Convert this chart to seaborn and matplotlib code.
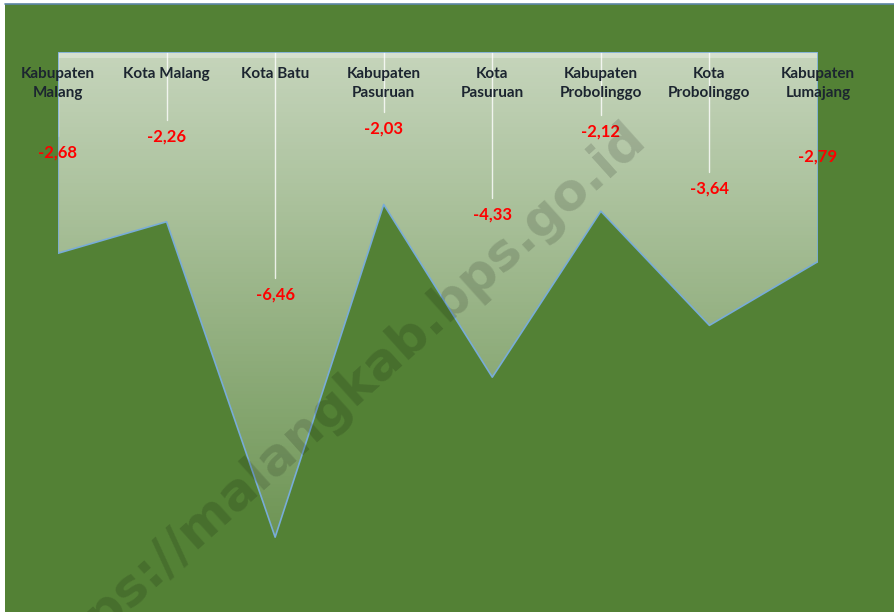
import numpy as np
import pandas as pd
import matplotlib
matplotlib.use("Agg")
import matplotlib.pyplot as plt
from matplotlib.patches import Rectangle, Polygon
import seaborn as sns

# Regional values (negative growth) per kabupaten / kota
regions = [
    "Kabupaten\nMalang", "Kota Malang", "Kota Batu", "Kabupaten\nPasuruan",
    "Kota\nPasuruan", "Kabupaten\nProbolinggo", "Kota\nProbolinggo", "Kabupaten\nLumajang",
]
values = [-2.68, -2.26, -6.46, -2.03, -4.33, -2.12, -3.64, -2.79]
value_labels = ["-2,68", "-2,26", "-6,46", "-2,03", "-4,33", "-2,12", "-3,64", "-2,79"]

df = pd.DataFrame({"pos": np.arange(len(regions)), "value": values})

sns.set_theme(style="white")
plt.rcParams["font.family"] = ["Lato", "DejaVu Sans"]

BG = "#538135"
W, H = 894, 612
fig = plt.figure(figsize=(W / 100, H / 100), dpi=100, facecolor="white")

# green chart panel with a thin frame line on top
fig.patches.append(Rectangle((5 / W, 0), 1 - 5 / W, 1 - 4 / H, transform=fig.transFigure,
                             facecolor=BG, edgecolor="none", zorder=-2))
fig.lines.append(plt.Line2D([5 / W, 1], [1 - 4 / H, 1 - 4 / H], transform=fig.transFigure,
                            color="#5d86a6", lw=1.2, zorder=-1))

ax = fig.add_axes([58 / W, 0, (818 - 58) / W, (H - 52) / H])
ax.set_zorder(2)
ax.set_facecolor("none")
ymin = -(H - 52) / 75.1

x = df["pos"].to_numpy()
y = df["value"].to_numpy()

# gradient fill: white fading out from the zero line downwards
verts = [(x[0], 0)] + list(zip(x, y)) + [(x[-1], 0)]
poly = Polygon(verts, closed=True, facecolor="none", edgecolor="none")
ax.add_patch(poly)
n = 300
top_a, bot_a = 0.67, 0.16
alpha = np.linspace(top_a, top_a - (top_a - bot_a) * (-ymin / 6.46), n)[:, None]
grad = np.ones((n, 2, 4))
grad[..., 3] = np.repeat(alpha, 2, axis=1)
im = ax.imshow(grad, extent=[x[0], x[-1], ymin, 0], origin="upper", aspect="auto", zorder=2)
im.set_clip_path(poly)

# light band along the category axis
ax.axhspan(-0.08, 0, color="white", alpha=0.3, lw=0, zorder=3)

# vertical grid lines down to the value labels
for xi, v in zip(x, y):
    ax.plot([xi, xi], [0, v / 2 + 0.22], color="white", lw=1, alpha=0.8, zorder=3)

# outline of the area
sns.lineplot(data=df, x="pos", y="value", ax=ax, color="#78acd8", lw=1.2, zorder=4)
ax.plot([x[0], x[0], x[-1], x[-1]], [y[0], 0, 0, y[-1]], color="#78acd8", lw=1.2, zorder=4)
ax.set_xlim(0, len(regions) - 1)
ax.set_ylim(ymin, 0)
ax.axis("off")

# category labels along the top
for xi, name in zip(x, regions):
    ax.annotate(name, (xi, 0), xytext=(0, -15), textcoords="offset pixels",
                ha="center", va="top", fontsize=11, fontweight="bold",
                color="#1c2530", linespacing=1.45, zorder=6, annotation_clip=False)

# value labels at the middle of each drop
for xi, v, lab in zip(x, y, value_labels):
    ax.text(xi, v / 2, lab, ha="center", va="center", fontsize=12,
            fontweight="bold", color="#ff0000", zorder=6)

# site watermark
fig.text(334 / W, 1 - 405 / H, "https://malangkab.bps.go.id", rotation=42,
         rotation_mode="anchor", ha="center", va="center", fontsize=37,
         fontweight="bold", family="DejaVu Sans", color="black", alpha=0.14, zorder=10)

fig.savefig("out.png", dpi=100, facecolor="white")
